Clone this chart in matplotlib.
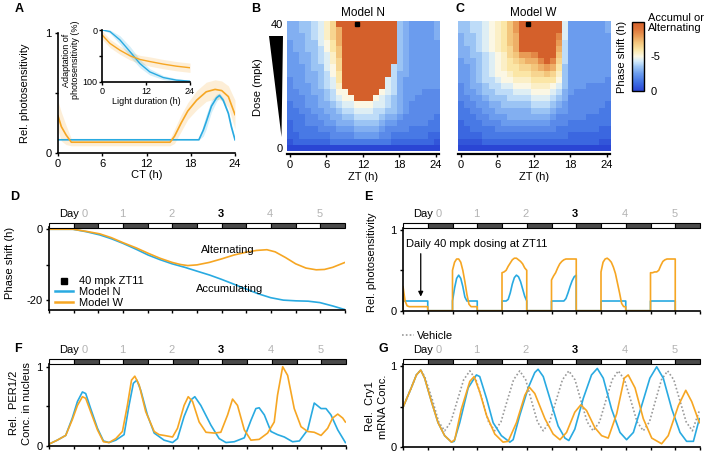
import numpy as np
import matplotlib
matplotlib.use('Agg')
import matplotlib.pyplot as plt
from matplotlib.colors import LinearSegmentedColormap, Normalize
from matplotlib.cm import ScalarMappable
from matplotlib.lines import Line2D
from matplotlib.patches import Polygon

plt.rcParams['font.family'] = ['Liberation Sans', 'DejaVu Sans']
plt.rcParams['font.size'] = 8
plt.rcParams['axes.linewidth'] = 1.2
plt.rcParams['xtick.major.width'] = 1.0
plt.rcParams['ytick.major.width'] = 1.0
plt.rcParams['xtick.major.size'] = 2.5
plt.rcParams['ytick.major.size'] = 2.5
plt.rcParams['xtick.major.pad'] = 2
plt.rcParams['ytick.major.pad'] = 2

BLUE = '#29aae1'
ORANGE = '#f6a623'
GRAY_DAY = '#b3b3b3'

# ---------------- data ----------------
# A: relative photosensitivity vs CT
A_CT_N = [0, 19.1, 19.7, 20.1, 20.8, 21.5, 21.9, 22.4, 23.1, 23.5, 24]
A_PS_N = [0.11, 0.11, 0.19, 0.26, 0.39, 0.46, 0.48, 0.44, 0.33, 0.22, 0.11]
A_SD_N = [0, 0, 0.05, 0.06, 0.05, 0.03, 0.02, 0.02, 0.02, 0.02, 0.01]
A_CT_W = [0, 0.45, 1.1, 1.8, 15.2, 15.8, 16.7, 17.6, 18.8, 20.1, 21.3, 22.2, 23.1, 24]
A_PS_W = [0.31, 0.22, 0.15, 0.09, 0.09, 0.14, 0.25, 0.35, 0.44, 0.51, 0.53, 0.52, 0.47, 0.32]
A_SD_W = [0.12, 0.12, 0.08, 0.03, 0.03, 0.06, 0.07, 0.07, 0.08, 0.08, 0.08, 0.08, 0.09, 0.12]

# A inset: adaptation of photosensitivity vs light duration
IN_H = [0, 2.1, 4.8, 7.6, 10.3, 13, 16.7, 20.3, 24]
IN_N = [0, 3, 19, 42, 65, 81, 92, 97, 99]
IN_SD_N = [0, 3, 8, 10, 8, 6, 4, 3, 2]
IN_W = [10, 26, 39, 50, 57, 61, 66, 70, 73]
IN_SD_W = [8, 8, 8, 8, 8, 9, 9, 9, 9]

# B/C: phase shift heatmaps, rows dose 40 -> 0 (step 2), cols ZT 0..24
# code: index in CODES / 2 = phase shift magnitude (h); X = accumulating or alternating
CODES = '0123456789abcdefghij'
DOSES = np.arange(40, -1, -2)
ZTS = np.arange(0, 25)
GRID_N = [
    "667789bd" "XXXXXXXXXX" "7655556",
    "667789bd" "f" "XXXXXXXXX" "7655556",
    "666789bd" "f" "XXXXXXXXX" "7655556",
    "566779ac" "f" "XXXXXXXXX" "7655555",
    "566778ac" "e" "XXXXXXXXX" "7655555",
    "5566789b" "e" "XXXXXXXXX" "7655555",
    "5566789b" "d" "XXXXXXXXX" "7655555",
    "5556779a" "d" "XXXXXXXX" "8" "7655555",
    "5556678a" "c" "XXXXXXXX" "8" "6655555",
    "45566789" "c" "XXXXXXX" "98" "6555555",
    "45556789" "b" "XXXXXXX" "98" "6555555",
    "44556678" "a" "a" "XXXXX" "a98" "6555444",
    "44455678" "9" "aa" "XXX" "a987" "6554444",
    "34455667" "8" "99aaa9987" "6544444",
    "33445566" "7" "889998877" "6544444",
    "33344556" "6" "778888766" "5444443",
    "23344455" "6" "667777655" "4444433",
    "23333444" "5" "556666544" "4433333",
    "22333334" "4" "445555443" "3333322",
    "12222223" "3" "333333332" "2222221",
    "0000000000000000000000000",
]
GRID_W = [
    "77889abceg" "XXXXXXX" "9" "5555556",
    "77889abceg" "XXXXXXX" "9" "5555556",
    "67789abcef" "XXXXXX" "h" "9" "5555555",
    "67789abcef" "XXXXXX" "g" "8" "5555555",
    "66789abcdf" "XXXXXX" "f" "8" "5555555",
    "667789abde" "ggh" "XXX" "e" "8" "5555555",
    "566789abcd" "eff" "h" "X" "h" "d" "8" "5555555",
    "556789abcc" "dde" "f" "g" "f" "c" "7" "5555555",
    "556789aabc" "ccddedb" "7" "5555555",
    "5567889aab" "bbcccca" "7" "5555554",
    "456678899a" "aabbba9" "7" "5554444",
    "4556778889" "99aaa98" "6" "5444444",
    "4455677788" "8899987" "6" "4444444",
    "3445566777" "7788876" "5" "4444443",
    "3344556666" "6677765" "5" "4444433",
    "3334455566" "6666654" "4" "4443333",
    "2333444555" "5555544" "4" "3333333",
    "2233334444" "4444443" "3" "3333322",
    "2222333333" "3333333" "3" "2222222",
    "1111222222" "2222222" "2" "2222211",
    "0000000000000000000000000",
]
MARK_ZT, MARK_DOSE = 11, 40

# D: phase shift over time (h)
D_T_N = [0, 11.7, 18.2, 24.7, 30.4, 36, 42.5, 48.2, 53.9, 59.9, 66.1, 72.1, 78.2, 83.9,
         89.6, 96.1, 101.8, 107.8, 114, 120.1, 126.1, 131.8, 138.3, 144]
D_PS_N = [0, 0, -0.7, -1.6, -2.7, -4.0, -5.7, -7.3, -8.6, -9.8, -10.8, -11.9, -13.0, -14.2,
          -15.5, -17.0, -18.3, -19.4, -20.1, -20.3, -20.4, -20.8, -21.8, -22.8]
D_T_W = [0, 11.7, 18.2, 24.7, 30.4, 36, 42.5, 48.2, 53.9, 59.9, 64, 67.5, 72, 78, 84, 90,
         96, 101, 106, 110, 115, 120, 125, 130, 134, 138, 141, 144]
D_PS_W = [0, 0, -0.6, -1.3, -2.4, -3.8, -5.3, -6.8, -8.2, -9.4, -10.0, -10.3, -10.1, -9.4,
          -8.4, -7.3, -6.5, -6.0, -5.8, -6.4, -8.0, -9.8, -11.0, -11.5, -11.4, -10.8, -10.1, -9.4]

# E: photosensitivity during each light phase (ZT0..ZT12, hourly), days 0-5
E_N = [
    [0.12] * 13,
    [0.12, 0.28, 0.40, 0.44, 0.40, 0.30, 0.17, 0.12, 0.12, 0.12, 0.12, 0.12, 0.12],
    [0.12, 0.12, 0.12, 0.14, 0.22, 0.33, 0.41, 0.44, 0.42, 0.36, 0.27, 0.18, 0.12],
    [0.12, 0.12, 0.12, 0.12, 0.12, 0.12, 0.12, 0.15, 0.22, 0.30, 0.37, 0.42, 0.44],
    [0.12] * 13,
    [0.12] * 13,
]
E_W = [
    [0.30, 0.12, 0.06, 0.05, 0.05, 0.05, 0.05, 0.05, 0.05, 0.05, 0.05, 0.05, 0.05],
    [0.50, 0.60, 0.64, 0.64, 0.60, 0.50, 0.36, 0.20, 0.08, 0.05, 0.05, 0.05, 0.05],
    [0.47, 0.48, 0.50, 0.55, 0.59, 0.63, 0.65, 0.65, 0.63, 0.61, 0.58, 0.53, 0.50],
    [0.38, 0.43, 0.47, 0.53, 0.58, 0.61, 0.63, 0.64, 0.64, 0.64, 0.64, 0.64, 0.64],
    [0.48, 0.60, 0.64, 0.65, 0.63, 0.60, 0.54, 0.46, 0.34, 0.22, 0.09, 0.05, 0.05],
    [0.47, 0.47, 0.48, 0.48, 0.50, 0.56, 0.61, 0.63, 0.64, 0.64, 0.64, 0.64, 0.64],
]
DOSE_TIME = 8.6

# F: nuclear PER1/2
F_T_N = [0, 4, 8.1, 11.3, 13.8, 16.2, 17.8, 20.2, 23.5, 26.4, 29.1, 32.4, 36.4, 38.8, 40.9,
         42.6, 44.5, 47.7, 51, 55.8, 59.9, 62.3, 65.5, 68.8, 70.7, 73.6, 78.5, 82.5, 85.8,
         89.8, 94.7, 97.9, 100.3, 101.9, 104.4, 107.6, 110.8, 114.1, 118.1, 121.4, 125.4,
         128.6, 131.9, 134.3, 136.7, 140, 143.7]
F_N = [0.02, 0.07, 0.13, 0.35, 0.56, 0.68, 0.66, 0.47, 0.22, 0.06, 0.04, 0.07, 0.14, 0.51,
       0.79, 0.83, 0.70, 0.39, 0.16, 0.07, 0.04, 0.09, 0.37, 0.58, 0.62, 0.51, 0.26, 0.09,
       0.04, 0.05, 0.10, 0.32, 0.47, 0.48, 0.39, 0.18, 0.14, 0.11, 0.05, 0.06, 0.20, 0.54,
       0.47, 0.47, 0.39, 0.20, 0.04]
F_T_W = [0, 4, 8.1, 11.3, 13.8, 16.2, 17.8, 20.2, 23.5, 26.4, 29.1, 32.4, 35.6, 38, 40, 41.6,
         43.7, 46.9, 51, 53.4, 55.8, 59.9, 62.3, 65.5, 67.5, 69.6, 72.8, 76.1, 80.1, 83.3,
         86.6, 89, 91.4, 94.7, 97.9, 101.9, 106, 109.2, 110.8, 113.3, 115.7, 118.9, 122.2,
         125.4, 128.6, 131.9, 135.1, 137.5, 140, 142.4, 143.7]
F_W = [0.02, 0.07, 0.13, 0.33, 0.51, 0.62, 0.60, 0.43, 0.20, 0.05, 0.04, 0.09, 0.18, 0.51,
       0.83, 0.88, 0.77, 0.43, 0.18, 0.14, 0.13, 0.11, 0.22, 0.51, 0.62, 0.56, 0.30, 0.17,
       0.16, 0.17, 0.39, 0.59, 0.51, 0.20, 0.07, 0.08, 0.16, 0.30, 0.64, 1.0, 0.89, 0.47,
       0.24, 0.18, 0.17, 0.13, 0.22, 0.35, 0.40, 0.35, 0.30]

# G: Cry1 mRNA
G_T_N = [0, 4, 6.5, 8.6, 10.5, 13.8, 17, 20.2, 23.5, 24.8, 27.5, 31.6, 35.6, 37.2, 40.5, 43.7,
         47.7, 51.8, 53.4, 56.6, 60.7, 63.9, 65.5, 68, 71.2, 75.2, 78.5, 80.4, 83.3, 87.4,
         91.4, 94.2, 97.1, 101.1, 105.2, 108.4, 111.7, 115.7, 119.7, 123, 126.2, 130.3,
         134.3, 137.5, 140.8, 143.7]
G_N = [0.49, 0.73, 0.89, 0.95, 0.85, 0.56, 0.30, 0.14, 0.06, 0.07, 0.30, 0.73, 0.89, 0.87,
       0.60, 0.30, 0.14, 0.06, 0.09, 0.39, 0.73, 0.92, 0.96, 0.87, 0.60, 0.26, 0.11, 0.08,
       0.22, 0.60, 0.89, 0.97, 0.85, 0.47, 0.18, 0.09, 0.18, 0.51, 0.85, 0.99, 0.85, 0.47,
       0.18, 0.07, 0.07, 0.35]
G_T_W = [0, 4, 6.5, 8.6, 10.5, 13.8, 17, 20.2, 23.5, 25.1, 28.3, 32.4, 34.5, 37.2, 40.5, 44.5,
         48.5, 51, 55, 59.1, 61.2, 63.9, 68.8, 72.8, 76.1, 79.3, 83.3, 86.2, 89, 93, 96.3,
         99.5, 103.6, 107.3, 109.2, 112.5, 116.5, 120.6, 125.4, 128.6, 133.5, 137.1, 140, 143.7]
G_W = [0.49, 0.73, 0.89, 0.95, 0.85, 0.56, 0.30, 0.14, 0.06, 0.09, 0.47, 0.81, 0.87, 0.68,
       0.39, 0.16, 0.06, 0.07, 0.30, 0.64, 0.74, 0.66, 0.35, 0.16, 0.09, 0.18, 0.43, 0.52,
       0.45, 0.24, 0.14, 0.11, 0.41, 0.85, 0.89, 0.73, 0.35, 0.11, 0.04, 0.14, 0.51, 0.70,
       0.56, 0.30]
G_T_V = [0, 4, 6.5, 8.6, 10.5, 14.4, 17.3, 20.2, 23.2, 26.3, 29.4, 32.4, 35.4, 38.5, 41.5,
         44.5, 47.5, 50.5, 53.6, 56.6, 59.5, 62.3, 65.2, 68, 71.1, 74.2, 77.3, 80.4, 83.4,
         86.3, 89.3, 92.2, 95.3, 98.3, 101.4, 104.4, 107.4, 110.5, 113.5, 116.5, 119.5,
         122.4, 125.3, 128.3, 131.3, 134.3, 137.3, 140.3, 143.7]
G_V = [0.49, 0.73, 0.89, 0.95, 0.87, 0.57, 0.31, 0.20, 0.31, 0.57, 0.83, 0.94, 0.83, 0.57,
       0.31, 0.20, 0.31, 0.57, 0.83, 0.94, 0.83, 0.57, 0.31, 0.20, 0.31, 0.57, 0.83, 0.94,
       0.83, 0.57, 0.31, 0.20, 0.31, 0.57, 0.83, 0.94, 0.83, 0.57, 0.31, 0.20, 0.31, 0.57,
       0.83, 0.94, 0.83, 0.57, 0.31, 0.20, 0.45]

DAY_LABELS = ['0', '1', '2', '3', '4', '5']
DAY_X = [17.5, 35.5, 59.5, 83.5, 107.5, 131.5]

# ---------------- figure ----------------
W, H = 709, 455
fig = plt.figure(figsize=(W / 100, H / 100), dpi=100)


def add_ax(l, t, r, b):
    return fig.add_axes([l / W, 1 - b / H, (r - l) / W, (b - t) / H])


def clean(ax):
    ax.spines['top'].set_visible(False)
    ax.spines['right'].set_visible(False)


def panel_letter(x, y, s):
    fig.text(x / W, 1 - y / H, s, fontsize=9, weight='bold', ha='center', va='center')


CMAP = LinearSegmentedColormap.from_list('shift', [
    (0.0, '#2a45d4'), (0.12, '#3f6fe3'), (0.25, '#6b9cee'), (0.35, '#9cc5f5'),
    (0.43, '#d3ebfb'), (0.5, '#fbf8e6'), (0.6, '#fbe6a6'), (0.7, '#f4c67c'),
    (0.8, '#e99b55'), (0.9, '#de7438'), (1.0, '#d4602b')])


def decode(rows):
    return np.array([[10.0 if c == 'X' else CODES.index(c) / 2 for c in row] for row in rows])


# ---- A ----
axA = add_ax(58, 33, 235, 153)
axA.fill_between(A_CT_W, np.clip(np.array(A_PS_W) - A_SD_W, 0, 1), np.array(A_PS_W) + A_SD_W,
                 color=ORANGE, alpha=0.18, lw=0)
axA.fill_between(A_CT_N, np.array(A_PS_N) - A_SD_N, np.array(A_PS_N) + A_SD_N,
                 color=BLUE, alpha=0.2, lw=0)
axA.plot(A_CT_N, A_PS_N, color=BLUE, lw=1.2)
axA.plot(A_CT_W, A_PS_W, color=ORANGE, lw=1.2)
axA.set_xlim(0, 24)
axA.set_ylim(0, 1)
axA.set_xticks([0, 6, 12, 18, 24])
axA.set_yticks([0, 0.5, 1])
axA.set_yticklabels(['0', '', '1'])
axA.set_xlabel('CT (h)')
axA.xaxis.set_label_coords(0.5, -0.142)
axA.set_ylabel('Rel. photosensitivity')
axA.yaxis.set_label_coords(-0.158, 0.5)
clean(axA)

axI = add_ax(102.3, 30, 190, 81.7)
axI.patch.set_alpha(0)
axI.fill_between(IN_H, np.array(IN_W) - IN_SD_W, np.array(IN_W) + IN_SD_W,
                 color=ORANGE, alpha=0.18, lw=0)
axI.fill_between(IN_H, np.array(IN_N) - IN_SD_N, np.array(IN_N) + IN_SD_N,
                 color=BLUE, alpha=0.2, lw=0)
axI.plot(IN_H, IN_N, color=BLUE, lw=1.0)
axI.plot(IN_H, IN_W, color=ORANGE, lw=1.0)
axI.set_xlim(0, 24)
axI.set_ylim(100, 0)
axI.set_xticks([0, 12, 24])
axI.set_yticks([0, 50, 100])
axI.set_yticklabels(['0', '', '100'])
axI.tick_params(labelsize=6.5, length=2, pad=1.5)
axI.set_xlabel('Light duration (h)', fontsize=6.5)
axI.xaxis.set_label_coords(0.5, -0.29)
axI.set_ylabel('Adaptation of\nphotosensitivity (%)', fontsize=6.5, linespacing=1.1)
axI.yaxis.set_label_coords(-0.25, 0.42)
clean(axI)

# ---- B, C ----
for (l, r), grid, title, show_y in [((286.7, 439), GRID_N, 'Model N', True),
                                    ((457.5, 609.8), GRID_W, 'Model W', False)]:
    ax = add_ax(l, 21.3, r, 150.7)
    ax.imshow(decode(grid), cmap=CMAP, vmin=0, vmax=10, aspect='auto', interpolation='nearest',
              extent=(ZTS[0] - 0.5, ZTS[-1] + 0.5, DOSES[-1] - 1, DOSES[0] + 1))
    ax.plot([MARK_ZT], [MARK_DOSE], 's', color='k', ms=3.5)
    ax.set_xlim(-0.5, 24.5)
    ax.set_ylim(-1, 41)
    for s in ['top', 'right', 'left']:
        ax.spines[s].set_visible(False)
    ax.spines['bottom'].set_position(('outward', 2.5))
    ax.spines['bottom'].set_linewidth(1.6)
    ax.set_xticks([0, 6, 12, 18, 24])
    ax.set_xlabel('ZT (h)')
    ax.xaxis.set_label_coords(0.5, -0.165)
    ax.set_title(title, fontsize=8.5, pad=4)
    if show_y:
        ax.set_yticks([0, 40])
        ax.tick_params(axis='y', length=0, pad=3)
        ax.set_ylabel('Dose (mpk)')
        ax.yaxis.set_label_coords(-0.156, 0.49)
    else:
        ax.set_yticks([])

tri = [(269, 36), (283, 36), (281.5, 137)]
fig.patches.append(Polygon([(x / W, 1 - y / H) for x, y in tri], closed=True,
                           transform=fig.transFigure, color='black', lw=0))

cax = add_ax(632, 22, 644, 91)
cb = fig.colorbar(ScalarMappable(norm=Normalize(0, 10), cmap=CMAP), cax=cax, ticks=[0, 5])
cb.ax.set_yticklabels(['0', '-5'])
cb.ax.tick_params(length=0, pad=5)
cb.outline.set_linewidth(1.0)
cb.ax.yaxis.set_label_position('left')
cb.set_label('Phase shift (h)')
cb.ax.yaxis.set_label_coords(-0.45, 0.5)
cax.text(1.35, 1.13, 'Accumul or\nAlternating', transform=cax.transAxes, ha='left', va='top',
         linespacing=1.05)


# ---- time panels ----
def time_axis(ax, ylim, yticks, ylabels):
    ax.set_xlim(0, 144)
    ax.set_ylim(*ylim)
    ax.set_xticks(np.arange(0, 145, 12))
    ax.set_xticklabels([])
    ax.set_yticks(yticks)
    ax.set_yticklabels(ylabels)
    clean(ax)


def day_bar(l, t, r, b):
    bar = add_ax(l, t, r, b)
    starts = np.arange(0, 144, 12)
    colors = ['white' if i % 2 == 0 else '#4a4a4a' for i in range(len(starts))]
    bars = bar.bar(starts, 1, width=12, align='edge', color=colors, edgecolor='black', linewidth=0.8)
    for p in bars:
        p.set_clip_on(False)
    bar.set_xlim(0, 144)
    bar.set_ylim(0, 1)
    bar.axis('off')
    bar.text(DAY_X[0] - 3, 2.2, 'Day', ha='right', va='baseline')
    for x, s in zip(DAY_X, DAY_LABELS):
        bold = s == '3'
        bar.text(x, 2.2, s, ha='center', va='baseline', color='black' if bold else GRAY_DAY,
                 weight='bold' if bold else 'normal')
    return bar


def light_trace(days):
    t, v = [], []
    for k, vals in enumerate(days):
        t += [24 * k] + [24 * k + i for i in range(len(vals))] + [24 * k + len(vals) - 1]
        v += [0] + list(vals) + [0]
    return t, v


# D
axD = add_ax(49, 227.5, 345, 310)
axD.plot(D_T_N, D_PS_N, color=BLUE, lw=1.2)
axD.plot(D_T_W, D_PS_W, color=ORANGE, lw=1.2)
time_axis(axD, (-22.9, 0.5), [-20, -10, 0], ['-20', '', '0'])
axD.set_ylabel('Phase shift (h)')
axD.yaxis.set_label_coords(-0.115, 0.57)
axD.text(87, -5.9, 'Alternating', ha='center', va='center')
axD.text(88, -16.9, 'Accumulating', ha='center', va='center')
handles = [Line2D([], [], marker='s', color='k', ls='none', ms=4),
           Line2D([], [], color=BLUE, lw=1.8), Line2D([], [], color=ORANGE, lw=1.8)]
axD.legend(handles, ['40 mpk ZT11', 'Model N', 'Model W'], loc='lower left',
           bbox_to_anchor=(0.02, 0.03), frameon=False, borderpad=0, borderaxespad=0,
           handlelength=1.6, handletextpad=0.6, labelspacing=0.05)
day_bar(49, 222.5, 345, 227.5)

# E
axE = add_ax(403, 227.5, 700, 310.7)
tN, vN = light_trace(E_N)
tW, vW = light_trace(E_W)
axE.plot(tN, vN, color=BLUE, lw=1.2)
axE.plot(tW, vW, color=ORANGE, lw=1.2)
time_axis(axE, (0, 1.03), [0, 0.5, 1], ['0', '', '1'])
axE.set_ylabel('Rel. photosensitivity')
axE.yaxis.set_label_coords(-0.088, 0.58)
axE.annotate('', xy=(DOSE_TIME, 0.14), xytext=(DOSE_TIME, 0.74),
             arrowprops=dict(arrowstyle='-|>', color='k', lw=0.9, mutation_scale=7))
axE.text(1.4, 0.83, 'Daily 40 mpk dosing at ZT11', ha='left', va='center')
day_bar(403, 222.5, 700, 227.5)

# F
axF = add_ax(49, 364, 346, 445.7)
axF.plot(F_T_N, F_N, color=BLUE, lw=1.2)
axF.plot(F_T_W, F_W, color=ORANGE, lw=1.2)
time_axis(axF, (0, 1.034), [0, 0.5, 1], ['0', '', '1'])
axF.set_ylabel('Rel.  PER1/2\nConc. in nucleus', linespacing=1.35)
axF.yaxis.set_label_coords(-0.057, 0.52)
day_bar(49, 359, 346, 364)

# G
axG = add_ax(403, 364, 700, 447)
axG.plot(G_T_V, G_V, color='#9a9a9a', lw=1.2, ls=(0, (1, 1.3)), label='Vehicle')
axG.plot(G_T_N, G_N, color=BLUE, lw=1.2)
axG.plot(G_T_W, G_W, color=ORANGE, lw=1.2)
time_axis(axG, (0, 1.025), [0, 0.5, 1], ['0', '', '1'])
axG.set_ylabel('Rel.  Cry1\nmRNA Conc.', linespacing=1.35)
axG.yaxis.set_label_coords(-0.05, 0.49)
axG.legend(loc='center left', bbox_to_anchor=(-0.005, 1.34), frameon=False, borderpad=0,
           borderaxespad=0, handlelength=1.1, handletextpad=0.3)
day_bar(403, 359, 700, 364)

panel_letter(19, 9, 'A')
panel_letter(256, 9, 'B')
panel_letter(460, 9, 'C')
panel_letter(15, 197, 'D')
panel_letter(368, 197, 'E')
panel_letter(18, 349, 'F')
panel_letter(383, 349, 'G')

fig.savefig('out.png', dpi=100)
